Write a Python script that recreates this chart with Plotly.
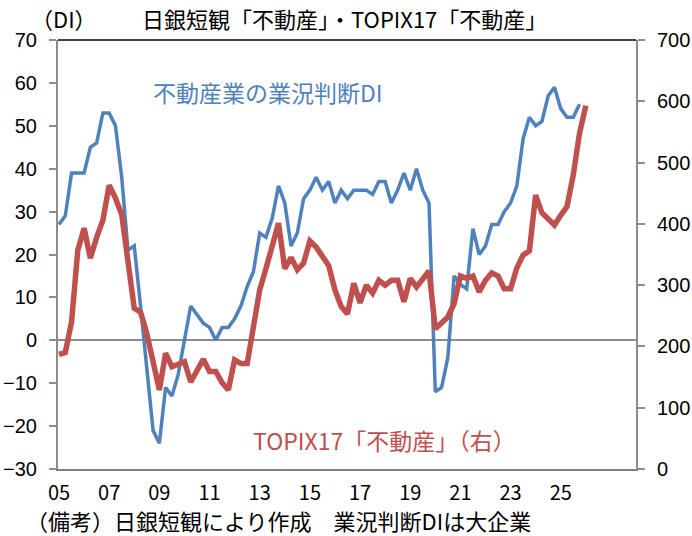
import plotly.graph_objects as go

# Quarterly data, 2005Q1 onward
di_realestate = [27, 29, 39, 39, 39, 45, 46, 53, 53, 50,
                 38, 21, 22, 8, -6, -21, -24, -11, -13, -8,
                 0, 8, 6, 4, 3, 0, 3, 3, 5, 8,
                 12.5, 16, 25, 24, 28.5, 36, 32, 22, 25, 33,
                 35, 38, 35, 37, 32, 35, 33, 35, 35, 35,
                 34, 37, 37, 32, 35, 39, 35, 40, 35, 32,
                 -12, -11, -4, 15, 13, 12, 26, 20, 22, 27,
                 27, 30, 32, 36, 47, 52, 50, 51, 57, 59,
                 54, 52, 52, 55]
topix17_re = [187, 190, 240, 357, 393, 344, 378, 406, 463, 442,
              415, 340, 262, 256, 221, 175, 129, 189, 167, 171,
              175, 142, 160, 179, 159, 159, 141, 129, 178, 172,
              172, 228, 292, 327, 368, 401, 327, 345, 325, 336,
              372, 362, 347, 332, 292, 265, 253, 303, 271, 300,
              287, 308, 300, 308, 308, 273, 311, 297, 310, 323,
              229, 240, 248, 270, 315, 311, 315, 289, 308, 320,
              315, 294, 294, 328, 349, 356, 447, 418, 407, 398,
              414, 428, 480, 548, 593]
tick_years = list(range(2005, 2026, 2))
tick_labels = [f"{y % 100:02d}" for y in tick_years]

start_year = 2005
x_di = [start_year + k / 4 for k in range(len(di_realestate))]
x_tp = [start_year + k / 4 for k in range(len(topix17_re))]

BLUE = "#4F81BD"
RED = "#C0504D"
AXIS = "#8C8C8C"
JP = "Noto Sans CJK JP"
NUM = "Liberation Sans"

W, H = 692, 536
L, R, T, B = 58, 636, 40, 469


def px(xp):
    return (xp - L) / (R - L)


def py(yp):
    return (B - yp) / (B - T)


fig = go.Figure()
fig.add_trace(go.Scatter(x=x_di, y=di_realestate, mode="lines",
                         line=dict(color=BLUE, width=3.5), yaxis="y",
                         showlegend=False, hoverinfo="skip"))
fig.add_trace(go.Scatter(x=x_tp, y=topix17_re, mode="lines",
                         line=dict(color=RED, width=5.5), yaxis="y2",
                         showlegend=False, hoverinfo="skip"))

fig.update_layout(
    width=W, height=H,
    margin=dict(l=L, r=W - R, t=T, b=H - B, pad=0, autoexpand=False),
    paper_bgcolor="white", plot_bgcolor="white",
    xaxis=dict(range=[2004.96, 2028.0], tickvals=tick_years, ticktext=tick_labels,
               automargin=False,
               showgrid=False, zeroline=False, showline=True, linecolor="#7F7F7F",
               linewidth=2, ticks="", tickfont=dict(family=JP, size=20, color="black"),
               ticklabelstandoff=5),
    yaxis=dict(range=[-30, 70], dtick=10, showgrid=False, zeroline=True,
               automargin=False,
               zerolinecolor=AXIS, zerolinewidth=2, showline=True, linecolor=AXIS,
               linewidth=2, ticks="outside", ticklen=7, tickwidth=2, tickcolor=AXIS,
               tickfont=dict(family=NUM, size=20, color="black"), ticklabelstandoff=8),
    yaxis2=dict(range=[0, 700], dtick=100, overlaying="y", side="right",
                automargin=False,
                showgrid=False, zeroline=False, showline=True, linecolor=AXIS,
                linewidth=2, ticks="outside", ticklen=7, tickwidth=2, tickcolor=AXIS,
                tickfont=dict(family=NUM, size=20, color="black"), ticklabelstandoff=8),
    shapes=[dict(type="line", xref="paper", yref="paper", x0=0, x1=1, y0=1, y1=1,
                 line=dict(color="black", width=1.5))],
)

annotations = [
    dict(text="（DI）", x=px(64), y=py(18), color="black", size=22),
    dict(text="日銀短観「不動産」・TOPIX17「不動産」", x=px(344), y=py(18),
         color="black", size=22),
    dict(text="不動産業の業況判断DI", x=px(268), y=py(92),
         color=BLUE, size=23),
    dict(text="TOPIX17「不動産」（右）", x=px(384), y=py(440),
         color=RED, size=23),
    dict(text="（備考）日銀短観により作成　業況判断DIは大企業", x=px(278), y=py(520),
         color="black", size=22),
]
for a in annotations:
    fig.add_annotation(text=a["text"], x=a["x"], y=a["y"], xref="paper", yref="paper",
                       xanchor="center", yanchor="middle", showarrow=False,
                       font=dict(family=JP, size=a["size"], color=a["color"]))

fig.write_html("out.html")
